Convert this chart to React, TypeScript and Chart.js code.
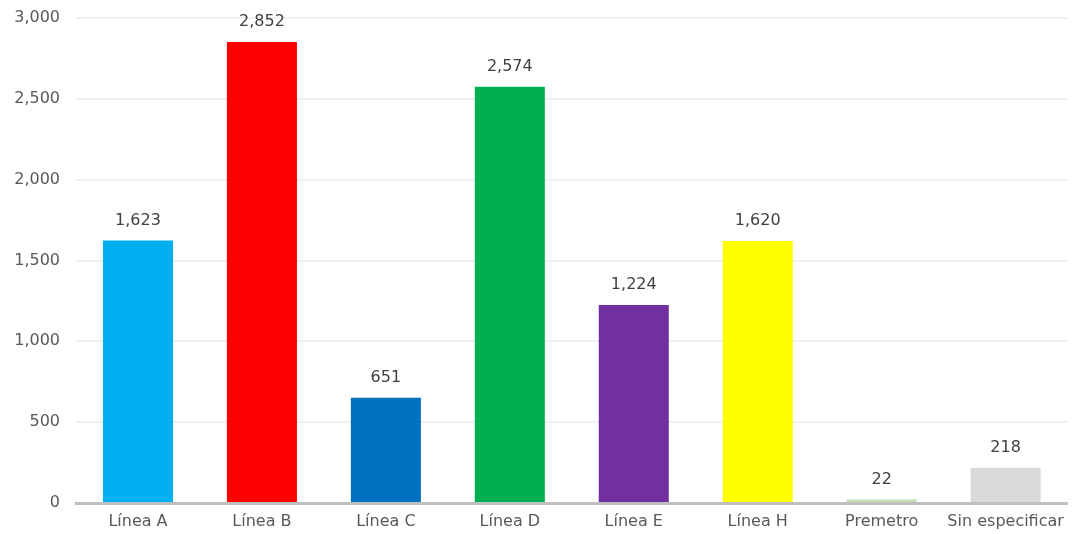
import React, { useEffect, useRef } from "react";
import { Chart, registerables } from "chart.js";

Chart.register(...registerables);

const categories = ["Línea A", "Línea B", "Línea C", "Línea D", "Línea E", "Línea H", "Premetro", "Sin especificar"];
const values = [1623, 2852, 651, 2574, 1224, 1620, 22, 218];
const barColors = ["#00b0f0", "#ff0000", "#0070c0", "#00b050", "#7030a0", "#ffff00", "#c5e0b4", "#d9d9d9"];

const FONT = "'DejaVu Sans', Verdana, sans-serif";

const valueLabels = {
  id: "valueLabels",
  afterDatasetsDraw(chart: any) {
    const ctx = chart.ctx;
    const meta = chart.getDatasetMeta(0);
    ctx.save();
    ctx.font = `16px ${FONT}`;
    ctx.fillStyle = "#404040";
    ctx.textAlign = "center";
    ctx.textBaseline = "middle";
    meta.data.forEach((bar: any, i: number) => {
      ctx.fillText(values[i].toLocaleString("en-US"), bar.x, bar.y - 20);
    });
    ctx.restore();
  },
};

export default function App() {
  const ref = useRef<HTMLCanvasElement>(null);
  useEffect(() => {
    if (!ref.current) return;
    const chart = new Chart(ref.current, {
      type: "bar",
      data: {
        labels: categories,
        datasets: [
          {
            data: values,
            backgroundColor: barColors,
            barPercentage: 0.565,
            categoryPercentage: 1,
          },
        ],
      },
      options: {
        animation: false,
        responsive: false,
        maintainAspectRatio: false,
        layout: { padding: { top: 18, right: 2, bottom: 0, left: 0 } },
        plugins: { legend: { display: false }, tooltip: { enabled: false } },
        scales: {
          x: {
            afterFit: (scale: any) => {
              scale.height = 31;
            },
            grid: { display: false, drawTicks: false },
            border: { display: true, color: "#bfbfbf", width: 3 },
            ticks: { color: "#595959", font: { family: FONT, size: 16 }, padding: 9, maxRotation: 0, autoSkip: false },
          },
          y: {
            min: 0,
            max: 3000,
            afterFit: (scale: any) => {
              scale.width = 76;
              scale.paddingTop = 0;
              scale.paddingBottom = 0;
            },
            grid: { color: "#f0f0f0", lineWidth: 2, drawTicks: false },
            border: { display: false },
            ticks: {
              stepSize: 500,
              color: "#595959",
              font: { family: FONT, size: 16 },
              padding: 16,
              callback: (v: any) => Number(v).toLocaleString("en-US"),
            },
          },
        },
      },
      plugins: [valueLabels],
    });
    return () => chart.destroy();
  }, []);
  return (
    <div style={{ position: "fixed", left: 0, top: 0, width: 1073, height: 534, background: "#fff" }}>
      <canvas ref={ref} width={1073} height={534} style={{ width: 1073, height: 534 }} />
    </div>
  );
}
